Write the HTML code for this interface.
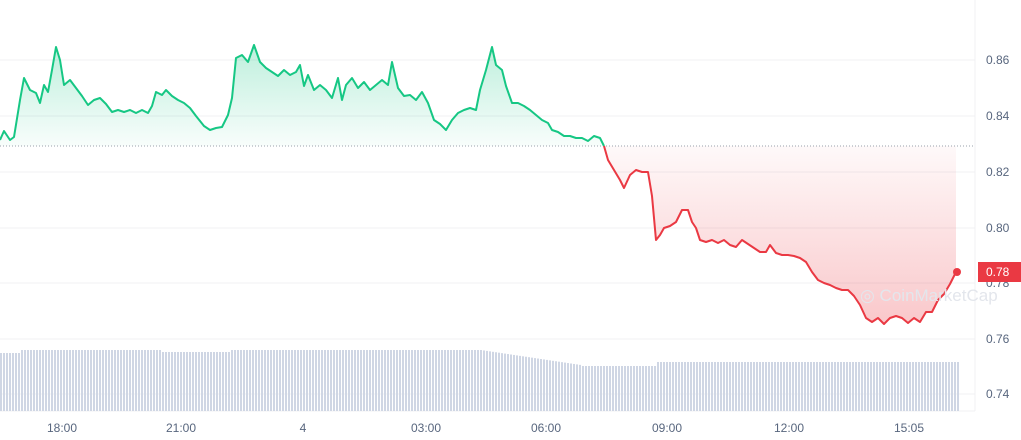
<!DOCTYPE html>
<html><head><meta charset="utf-8"><style>
html,body{margin:0;padding:0;background:#fff;width:1021px;height:440px;overflow:hidden}
svg{display:block;font-family:"Liberation Sans",sans-serif}
</style></head><body>
<svg id="s" width="1021" height="440" viewBox="0 0 1021 440">
<defs>
<linearGradient id="gg" x1="0" y1="0" x2="0" y2="1"><stop offset="0" stop-color="#16c784" stop-opacity="0.28"/><stop offset="1" stop-color="#16c784" stop-opacity="0.03"/></linearGradient>
<linearGradient id="rg" x1="0" y1="1" x2="0" y2="0"><stop offset="0" stop-color="#ea3943" stop-opacity="0.28"/><stop offset="1" stop-color="#ea3943" stop-opacity="0.03"/></linearGradient>
</defs>
<g stroke="#f0f0f3" stroke-width="1">
<line x1="0" y1="60" x2="975" y2="60"/><line x1="0" y1="116" x2="975" y2="116"/><line x1="0" y1="172" x2="975" y2="172"/><line x1="0" y1="228" x2="975" y2="228"/><line x1="0" y1="283" x2="975" y2="283"/><line x1="0" y1="339" x2="975" y2="339"/><line x1="0" y1="394" x2="975" y2="394"/>
<line x1="975" y1="0" x2="975" y2="411"/><line x1="0" y1="411" x2="975" y2="411"/>
</g>
<g id="bars" fill="#cfd6e4"></g>
<path id="gf" fill="url(#gg)"/><path id="rf" fill="url(#rg)"/>
<line x1="0" y1="146" x2="975" y2="146" stroke="#9aa0ab" stroke-width="1" stroke-dasharray="1,2"/>
<path id="gl" fill="none" stroke="#16c784" stroke-width="2" stroke-linejoin="round"/>
<path id="rl" fill="none" stroke="#ea3943" stroke-width="2" stroke-linejoin="round"/>
<circle cx="957" cy="272" r="4" fill="#ea3943"/>
<text x="860" y="301" font-size="17" fill="#e3e6ec">◎ CoinMarketCap</text>
<g font-size="12" fill="#58667e">
<text x="986" y="64">0.86</text><text x="986" y="120">0.84</text><text x="986" y="176">0.82</text><text x="986" y="232">0.80</text><text x="986" y="287">0.78</text><text x="986" y="343">0.76</text><text x="986" y="398">0.74</text>
</g>
<rect x="978" y="262" width="43" height="20" fill="#ea3943"/>
<text x="986" y="276" font-size="12" fill="#fff">0.78</text>
<g font-size="12" fill="#58667e" text-anchor="middle">
<text x="62" y="432">18:00</text><text x="181" y="432">21:00</text><text x="303" y="432">4</text><text x="426" y="432">03:00</text><text x="546" y="432">06:00</text><text x="667" y="432">09:00</text><text x="789" y="432">12:00</text><text x="909" y="432">15:05</text>
</g>
</svg>
<script>
var G=[[0,140],[4,131],[10,140],[14,137],[20,100],[24,78],[30,90],[36,93],[40,103],[44,85],[48,92],[52,70],[56,47],[60,60],[64,85],[70,80],[76,88],[82,96],[88,105],[94,100],[100,98],[106,104],[112,112],[118,110],[124,112],[130,110],[136,113],[142,110],[148,113],[152,106],[156,92],[162,95],[166,90],[172,96],[178,100],[184,103],[190,108],[196,116],[204,126],[210,130],[216,128],[222,127],[228,115],[232,98],[236,58],[242,55],[248,62],[254,45],[260,62],[266,68],[272,72],[278,76],[284,70],[290,75],[296,72],[300,65],[304,86],[308,75],[314,90],[320,85],[326,90],[332,98],[338,78],[342,100],[346,85],[352,78],[358,88],[364,82],[370,90],[376,85],[382,80],[388,85],[392,62],[398,88],[404,96],[410,95],[416,100],[422,92],[428,103],[434,120],[440,124],[446,130],[452,120],[458,113],[464,110],[470,108],[476,110],[480,90],[486,70],[492,47],[496,65],[502,70],[506,86],[512,103],[518,103],[524,106],[530,110],[536,115],[542,120],[548,123],[552,130],[558,132],[564,136],[570,136],[576,138],[582,138],[588,141],[594,136],[600,138],[604,146]];
var R=[[604,146],[608,160],[614,170],[620,180],[624,188],[630,175],[636,170],[642,172],[648,172],[652,196],[656,240],[660,235],[664,228],[670,226],[676,222],[682,210],[688,210],[692,222],[696,228],[700,240],[706,242],[712,240],[718,243],[724,240],[730,245],[736,247],[742,240],[748,244],[754,248],[760,252],[766,252],[770,245],[776,253],[782,255],[788,255],[794,256],[800,258],[806,262],[812,272],[818,280],[824,283],[830,285],[836,288],[842,290],[848,290],[854,296],[860,305],[866,318],[872,322],[878,318],[884,324],[890,318],[896,316],[902,318],[908,323],[914,318],[920,322],[926,312],[932,312],[938,300],[944,294],[950,284],[956,272]];
function p(a){return a.map(function(q,i){return (i?'L':'M')+q[0]+','+q[1]}).join('')}
document.getElementById('gl').setAttribute('d',p(G));
document.getElementById('rl').setAttribute('d',p(R));
document.getElementById('gf').setAttribute('d',p(G)+'L604,146L0,146Z');
document.getElementById('rf').setAttribute('d',p(R)+'L956,146L604,146Z');
var b='';for(var x=0;x<958;x+=3){var t;
if(x<20)t=353;else if(x<480)t=350+((x>160&&x<230)?2:0);else if(x<580)t=350+(x-480)*0.15;else if(x<655)t=366;else t=362;
b+='<rect x="'+x+'" y="'+t+'" width="2" height="'+(411-t)+'"/>';}
document.getElementById('bars').innerHTML=b;
</script>
</body></html>
